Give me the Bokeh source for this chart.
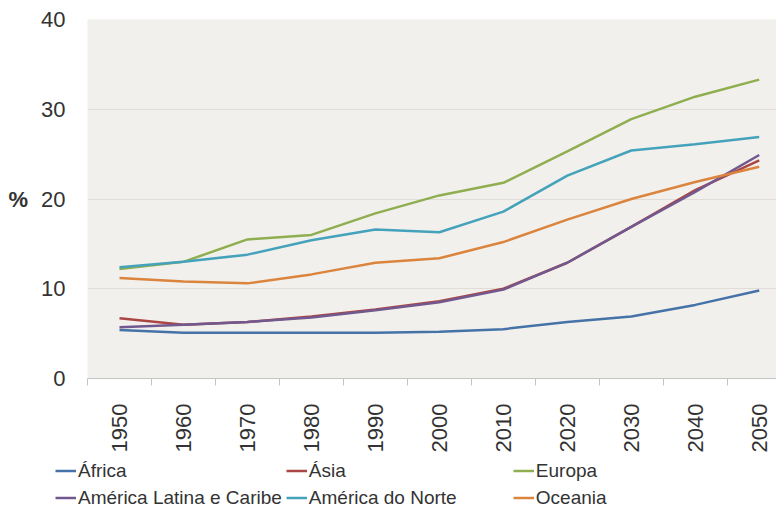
from bokeh.plotting import figure
from bokeh.models import Range1d, FixedTicker, Legend, LegendItem
from bokeh.layouts import column
from bokeh.embed import file_html
from bokeh.resources import INLINE
import math

years = [1950, 1960, 1970, 1980, 1990, 2000, 2010, 2020, 2030, 2040, 2050]
africa = [5.4, 5.1, 5.1, 5.1, 5.1, 5.2, 5.5, 6.3, 6.9, 8.2, 9.8]
asia = [6.7, 6.0, 6.3, 6.9, 7.7, 8.6, 10.0, 12.9, 16.9, 21.0, 24.3]
europa = [12.2, 13.0, 15.5, 16.0, 18.4, 20.4, 21.8, 25.3, 28.9, 31.4, 33.3]
latam = [5.7, 6.0, 6.3, 6.8, 7.6, 8.5, 9.9, 12.9, 16.9, 20.8, 24.9]
namerica = [12.4, 13.0, 13.8, 15.4, 16.6, 16.3, 18.6, 22.6, 25.4, 26.1, 26.9]
oceania = [11.2, 10.8, 10.6, 11.6, 12.9, 13.4, 15.2, 17.7, 20.0, 21.9, 23.6]

names = ["África", "Ásia", "Europa", "América Latina e Caribe", "América do Norte", "Oceania"]
series = [africa, asia, europa, latam, namerica, oceania]
colors = ["#4572a7", "#aa4643", "#8fae50", "#71588f", "#45a2bb", "#db843d"]
y_ticks = [0, 10, 20, 30, 40]
grid_ticks = [10, 20, 30]
boundaries = [y - 5 for y in years]

FONT = "Liberation Sans, Arial, sans-serif"

p = figure(width=776, height=455, output_backend="svg", toolbar_location=None,
           x_range=Range1d(1945, 2052.7), y_range=Range1d(0, 40),
           min_border_left=87, min_border_right=0, min_border_top=19, min_border_bottom=76)
p.frame_align = False

p.background_fill_color = "#f2f0ed"
p.border_fill_color = "white"
p.outline_line_color = None

p.xgrid.visible = False
p.ygrid.ticker = FixedTicker(ticks=grid_ticks)
p.ygrid.grid_line_color = "#e0ddd9"
p.ygrid.grid_line_width = 1

# x axis
xa = p.xaxis[0]
xa.ticker = FixedTicker(ticks=years, minor_ticks=boundaries)
xa.axis_line_color = "#c4c4c4"
xa.major_tick_line_color = None
xa.major_tick_out = 0
xa.major_tick_in = 0
xa.minor_tick_line_color = "#c4c4c4"
xa.minor_tick_out = 7
xa.minor_tick_in = 0
xa.major_label_orientation = math.pi / 2
xa.major_label_standoff = 18
xa.major_label_text_font = FONT
xa.major_label_text_font_size = "22px"
xa.major_label_text_color = "#333333"

# y axis
ya = p.yaxis[0]
ya.ticker = FixedTicker(ticks=y_ticks)
ya.axis_line_color = None
ya.major_tick_line_color = None
ya.minor_tick_line_color = None
ya.major_tick_out = 0
ya.major_tick_in = 0
ya.major_label_standoff = 22
ya.major_label_text_font = FONT
ya.major_label_text_font_size = "22px"
ya.major_label_text_color = "#333333"
ya.axis_label = "%"
ya.axis_label_orientation = "horizontal"
ya.axis_label_text_font = FONT
ya.axis_label_text_font_size = "22px"
ya.axis_label_text_font_style = "bold"
ya.axis_label_text_color = "#333333"
ya.axis_label_standoff = 10

for vals, col in zip(series, colors):
    p.line(years, vals, line_color=col, line_width=2.5)

# legend strip below the chart (its own frame spans the full width)
p2 = figure(width=776, height=54, output_backend="svg", toolbar_location=None,
            x_range=Range1d(0, 1), y_range=Range1d(0, 1),
            x_axis_location=None, y_axis_location=None,
            min_border_left=0, min_border_right=0, min_border_top=0, min_border_bottom=0)
p2.frame_align = False
p2.grid.visible = False
p2.outline_line_color = None
p2.background_fill_color = "white"
p2.border_fill_color = "white"

items = []
for name, vals, col in zip(names, series, colors):
    # same series, outside this strip's ranges: only the legend swatch shows
    r = p2.line(years, vals, line_color=col, line_width=2.5)
    items.append(LegendItem(label=name, renderers=[r]))

legend = Legend(items=items, orientation="horizontal", ncols=3,
                location=(55, 0), margin=0, padding=0, spacing=4,
                glyph_width=21, glyph_height=23, label_standoff=2,
                label_width=200, label_height=23,
                label_text_font=FONT, label_text_font_size="19px",
                label_text_color="#333333",
                border_line_color=None, background_fill_alpha=0)
p2.add_layout(legend, "center")

layout = column(p, p2, spacing=0)
open("out.html", "w").write(file_html(layout, INLINE))
